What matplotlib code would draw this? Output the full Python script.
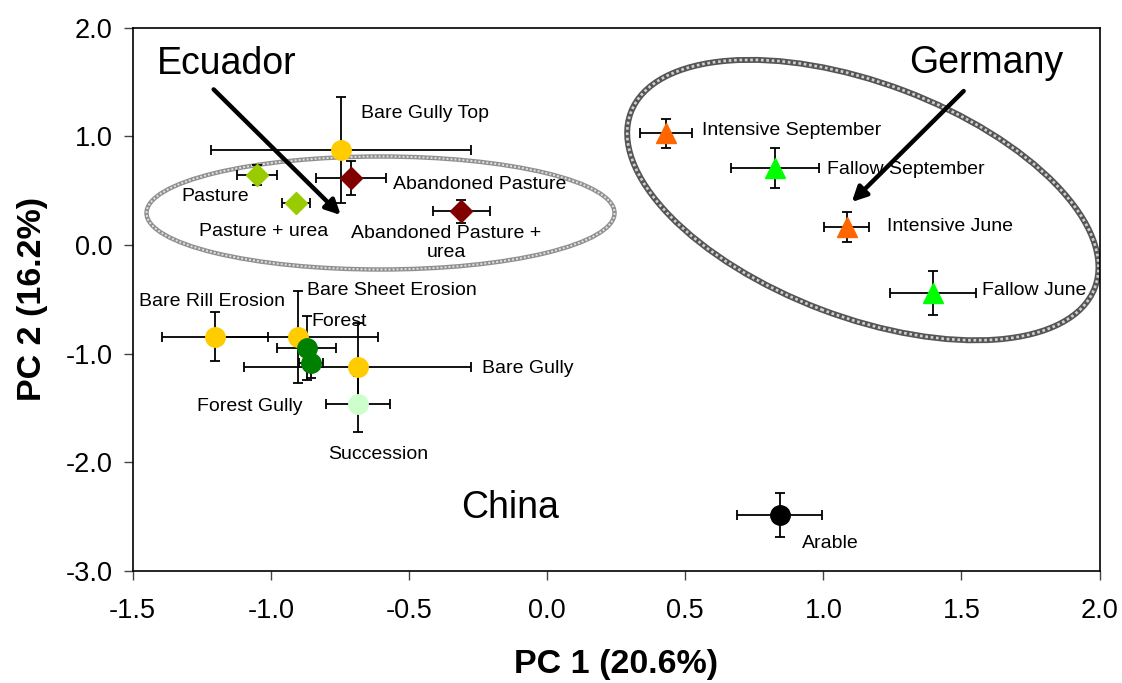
import matplotlib
matplotlib.use('Agg')
import matplotlib.pyplot as plt
from matplotlib.patches import Ellipse
from matplotlib.transforms import ScaledTranslation

plt.rcParams['font.family'] = ['Liberation Sans', 'DejaVu Sans']
plt.rcParams['axes.unicode_minus'] = False

# -------- data (PC scores, mean +/- error) --------
names = ['Bare Gully Top', 'Pasture', 'Pasture + urea', 'Abandoned Pasture',
         'Abandoned Pasture + urea', 'Bare Rill Erosion', 'Bare Sheet Erosion',
         'Forest', 'Forest Gully', 'Bare Gully', 'Succession',
         'Intensive September', 'Fallow September', 'Intensive June',
         'Fallow June', 'Arable']
pc1 = [-0.747, -1.050, -0.910, -0.711, -0.310, -1.202, -0.902, -0.870,
       -0.856, -0.686, -0.686, 0.431, 0.825, 1.085, 1.396, 0.842]
pc2 = [0.874, 0.644, 0.386, 0.616, 0.312, -0.846, -0.846, -0.949,
       -1.087, -1.124, -1.464, 1.030, 0.708, 0.165, -0.443, -2.487]
pc1_err = [0.47, 0.072, 0.05, 0.127, 0.103, 0.193, 0.289, 0.107,
           0.043, 0.41, 0.116, 0.094, 0.159, 0.081, 0.155, 0.154]
pc2_err = [0.49, 0.09, 0.05, 0.157, 0.106, 0.226, 0.424, 0.295,
           0.138, 0.405, 0.258, 0.134, 0.184, 0.138, 0.203, 0.203]
colors = ['#FFCC00', '#99CC00', '#99CC00', '#800000', '#800000', '#FFCC00',
          '#FFCC00', '#008000', '#008000', '#FFCC00', '#CCFFCC',
          '#FF6600', '#00FF00', '#FF6600', '#00FF00', '#000000']
markers = ['o', 'D', 'D', 'D', 'D', 'o', 'o', 'o', 'o', 'o', 'o',
           '^', '^', '^', '^', 'o']

# label positions (data coords)
label_text = ['Bare Gully Top', 'Pasture', 'Pasture + urea', 'Abandoned Pasture',
              'Abandoned Pasture +\nurea', 'Bare Rill Erosion', 'Bare Sheet Erosion',
              'Forest', 'Forest Gully', 'Bare Gully', 'Succession',
              'Intensive September', 'Fallow September', 'Intensive June',
              'Fallow June', 'Arable']
label_x = [-0.674, -1.325, -1.260, -0.559, -0.364, -1.477, -0.870, -0.852,
           -1.267, -0.234, -0.794, 0.561, 1.013, 1.230, 1.573, 0.922]
label_y = [1.214, 0.45, 0.128, 0.561, 0.02, -0.517, -0.423, -0.708,
           -1.49, -1.142, -1.934, 1.058, 0.699, 0.174, -0.424, -2.745]

regions = ['Ecuador', 'Germany', 'China']
region_x = [-1.159, 1.588, -0.133]
region_y = [1.666, 1.675, -2.422]

xticks = [-1.5, -1.0, -0.5, 0.0, 0.5, 1.0, 1.5, 2.0]
yticks = [-3.0, -2.0, -1.0, 0.0, 1.0, 2.0]

fig = plt.figure(figsize=(11.22, 6.83), dpi=100)
ax = fig.add_axes([0.1183, 0.1644, 0.8617, 0.795])
ax.set_xlim(-1.5, 2.0)
ax.set_ylim(-3.0, 2.0)


def textured_ellipse(center, w_in, h_in, angle, base, dots, lw):
    # ellipse sized in inches, anchored at a data point
    tr = fig.dpi_scale_trans + ScaledTranslation(center[0], center[1], ax.transData)
    ax.add_patch(Ellipse((0, 0), w_in, h_in, angle=angle, transform=tr,
                         fill=False, ec=base, lw=lw, zorder=1))
    ax.add_patch(Ellipse((0, 0), w_in, h_in, angle=angle, transform=tr,
                         fill=False, ec=dots, lw=lw * 0.45, ls=(0, (1, 1)), zorder=1))


textured_ellipse((-0.603, 0.294), 4.68, 1.13, 0, '#8f8f8f', '#e0e0e0', 3.2)
textured_ellipse((1.143, 0.413), 4.96, 2.34, -20.7, '#555555', '#cfcfcf', 4.3)

for i in range(len(names)):
    ax.errorbar(pc1[i], pc2[i], xerr=pc1_err[i], yerr=pc2_err[i], fmt='none',
                ecolor='black', elinewidth=1.3, capsize=3.3, capthick=1.3, zorder=2)
for i in range(len(names)):
    ms = 11 if markers[i] == 'D' else 14
    ax.plot(pc1[i], pc2[i], marker=markers[i], ms=ms, color=colors[i],
            mec=colors[i], ls='none', zorder=3)

for i in range(len(label_text)):
    ha = 'center' if '\n' in label_text[i] else 'left'
    ax.text(label_x[i], label_y[i], label_text[i], fontsize=14, ha=ha,
            va='center', zorder=4, linespacing=1.15)

for i in range(len(regions)):
    ax.text(region_x[i], region_y[i], regions[i], fontsize=27, ha='center',
            va='center', zorder=4)

arrow = dict(arrowstyle='-|>', lw=3.2, color='black', mutation_scale=22,
             shrinkA=0, shrinkB=0)
ax.annotate('', xy=(-0.747, 0.275), xytext=(-1.207, 1.432), arrowprops=arrow, zorder=5)
ax.annotate('', xy=(1.103, 0.395), xytext=(1.508, 1.417), arrowprops=arrow, zorder=5)

ax.set_xticks(xticks)
ax.set_yticks(yticks)
ax.set_xticklabels(['%.1f' % t for t in xticks])
ax.set_yticklabels(['%.1f' % t for t in yticks])
ax.tick_params(direction='out', length=6.5, width=1.0, labelsize=19.5, color='#444444')
ax.tick_params(axis='x', pad=13)
ax.tick_params(axis='y', pad=8)
for s in ax.spines.values():
    s.set_linewidth(1.2)

ax.set_xlabel('PC 1 (20.6%)', fontsize=24.5, fontweight='bold')
ax.set_ylabel('PC 2 (16.2%)', fontsize=24.5, fontweight='bold')
ax.xaxis.set_label_coords(0.5, -0.172)
ax.yaxis.set_label_coords(-0.104, 0.5)
ax.xaxis.label.set_va('center')
ax.yaxis.label.set_va('center')

fig.savefig('out.png', dpi=100)
